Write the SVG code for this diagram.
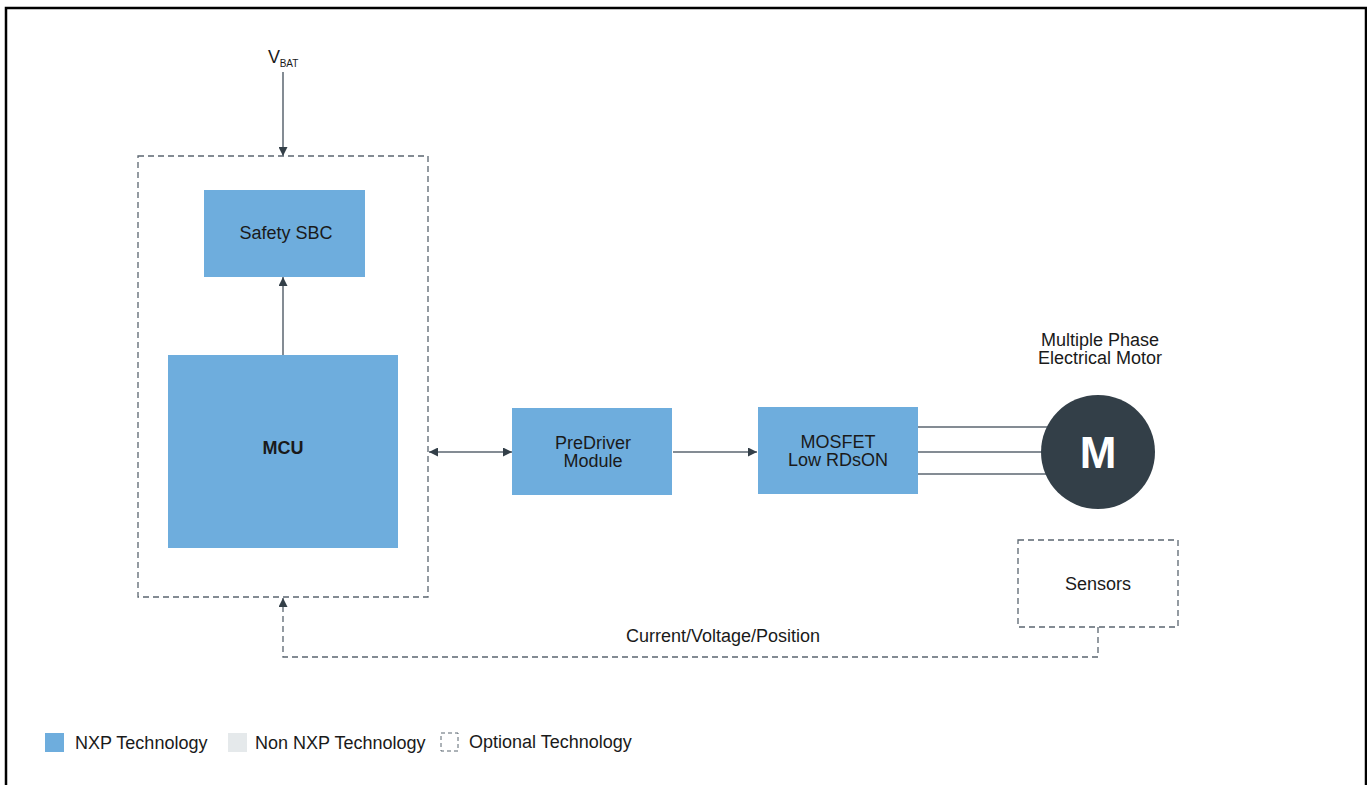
<svg xmlns="http://www.w3.org/2000/svg" width="1367" height="785" viewBox="0 0 1367 785">
<style>
.blk{fill:#6eaddd}
.t{font-family:"Liberation Sans",Arial,sans-serif;font-size:18px;fill:#1a1a1a;text-anchor:middle}
.ln{stroke:#5b6670;stroke-width:1.5;fill:none}
.dash{stroke:#5b6670;stroke-width:1.3;fill:none;stroke-dasharray:6 4}
.ph{stroke:#5b6670;stroke-width:1.5}
</style>
<defs>
<marker id="ah" viewBox="0 0 10 10" refX="10" refY="5" markerWidth="9" markerHeight="9" markerUnits="userSpaceOnUse" orient="auto-start-reverse">
<path d="M0,0 L10,5 L0,10 z" fill="#333f48"/>
</marker>
</defs>
<rect width="1367" height="785" fill="#fff"/>
<path d="M6,800 V8 H1366 V800" fill="none" stroke="#000" stroke-width="2.5"/>
<text class="t" x="274" y="63" style="font-size:18px">V</text>
<text class="t" x="289" y="67" style="font-size:10px">BAT</text>
<g id="connectors">
<line class="ln" x1="283" y1="72" x2="283" y2="156" marker-end="url(#ah)"/>
<line class="ln" x1="283" y1="355" x2="283" y2="277" marker-end="url(#ah)"/>
<line class="ln" x1="429" y1="452" x2="512" y2="452" marker-start="url(#ah)" marker-end="url(#ah)"/>
<line class="ln" x1="673" y1="452" x2="757" y2="452" marker-end="url(#ah)"/>
<line class="ph" x1="918" y1="427" x2="1048" y2="427"/>
<line class="ph" x1="918" y1="452" x2="1045" y2="452"/>
<line class="ph" x1="918" y1="474" x2="1048" y2="474"/>
<path class="dash" d="M1098,627 V657 H283 V598" marker-end="url(#ah)"/>
<text class="t" x="723" y="642">Current/Voltage/Position</text>
</g>
<g id="optional-group">
<rect class="dash" x="138" y="156" width="290" height="441"/>
</g>
<g id="safety-sbc">
<rect class="blk" x="204" y="190" width="161" height="87"/>
<text class="t" x="286" y="239">Safety SBC</text>
</g>
<g id="mcu">
<rect class="blk" x="168" y="355" width="230" height="193"/>
<text class="t" x="283" y="454" style="font-weight:bold">MCU</text>
</g>
<g id="predriver">
<rect class="blk" x="512" y="408" width="160" height="87"/>
<text class="t" x="593" y="449">PreDriver</text>
<text class="t" x="593" y="467">Module</text>
</g>
<g id="mosfet">
<rect class="blk" x="758" y="407" width="160" height="87"/>
<text class="t" x="838" y="448">MOSFET</text>
<text class="t" x="838" y="466">Low RDsON</text>
</g>
<g id="motor">
<text class="t" x="1100" y="346">Multiple Phase</text>
<text class="t" x="1100" y="364">Electrical Motor</text>
<circle cx="1098" cy="452" r="57" fill="#333f48"/>
<text class="t" x="1098" y="468" style="font-size:44px;font-weight:bold;fill:#fff">M</text>
</g>
<g id="sensors">
<rect class="dash" x="1018" y="540" width="160" height="87"/>
<text class="t" x="1098" y="590">Sensors</text>
</g>
<g id="legend">
<rect x="45" y="733" width="19" height="19" fill="#6eaddd"/>
<text class="t" x="75" y="749" style="text-anchor:start">NXP Technology</text>
<rect x="228" y="733" width="19" height="19" fill="#e5e9eb"/>
<text class="t" x="255" y="749" style="text-anchor:start">Non NXP Technology</text>
<rect x="441" y="733" width="17" height="18" fill="none" stroke="#5b6670" stroke-width="1" stroke-dasharray="4 3"/>
<text class="t" x="469" y="748" style="text-anchor:start">Optional Technology</text>
</g>
</svg>
